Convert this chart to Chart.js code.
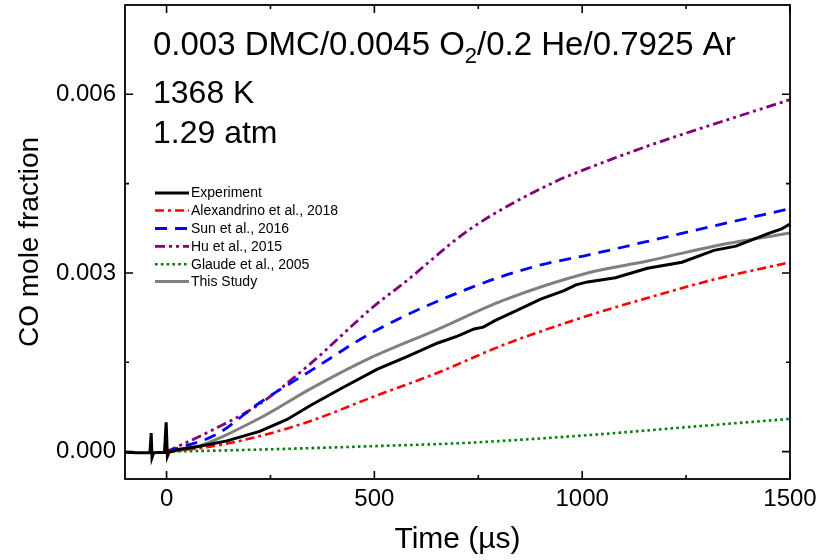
<!DOCTYPE html>
<html>
<head>
<meta charset="utf-8">
<script src="https://cdn.jsdelivr.net/npm/chart.js@4"></script>
<style>
  body { margin: 0; background: #fff; }
  canvas { display: block; }
</style>
</head>
<body>
<canvas id="chart" width="818" height="560"></canvas>
<script>
// valeurs (temps en µs, fraction molaire de CO)
const expTime = [-100, -70, -40, -37, -35, -31, -5, -1, 2, 6, 31, 80, 145, 224, 290, 345, 420, 506, 580, 651, 700, 740, 762, 790, 852, 900, 955, 985, 1013, 1080, 1157, 1240, 1317, 1370, 1413, 1447, 1480, 1500];
const expCO = [-0.00001, -0.00002, -0.00002, 0.00031, -0.00010, -0.00002, -0.00001, 0.00049, -0.00008, -0.00001, 0.00004, 0.00009, 0.00018, 0.00034, 0.00054, 0.00077, 0.00106, 0.00138, 0.00160, 0.00182, 0.00194, 0.00206, 0.00209, 0.00220, 0.00240, 0.00256, 0.00270, 0.00280, 0.00285, 0.00292, 0.00308, 0.00318, 0.00338, 0.00345, 0.00357, 0.00366, 0.00374, 0.00382];

const alexTime = [0, 111, 224, 345, 497, 651, 810, 1013, 1157, 1317, 1500];
const alexCO = [0, 0.00009, 0.00026, 0.00051, 0.00092, 0.00132, 0.00179, 0.00228, 0.00258, 0.00289, 0.00318];

const sunTime = [0, 120, 224, 345, 500, 731, 892, 1013, 1157, 1317, 1500];
const sunCO = [0, 0.00029, 0.00082, 0.00135, 0.00202, 0.00275, 0.00312, 0.00330, 0.00353, 0.00379, 0.00408];

const huTime = [0, 104, 224, 345, 497, 569, 731, 940, 996, 1157, 1317, 1500];
const huCO = [0, 0.00034, 0.00080, 0.00147, 0.00243, 0.00282, 0.00374, 0.00455, 0.00471, 0.00513, 0.00550, 0.00591];

const glaudeTime = [0, 200, 490, 731, 1020, 1285, 1500];
const glaudeCO = [0, 0.00003, 0.00009, 0.00015, 0.00028, 0.00043, 0.00055];

const studyTime = [0, 63, 224, 345, 489, 651, 810, 1013, 1157, 1317, 1500];
const studyCO = [0, 0.00006, 0.00056, 0.00105, 0.00157, 0.00205, 0.00254, 0.00300, 0.00320, 0.00345, 0.00367];

const xTickValues = [0, 500, 1000, 1500];
const xMinorTicks = [250, 750, 1250];
const yTickValues = [0, 0.003, 0.006];
const yMinorTicks = [0.0015, 0.0045];

const FONT = '"Liberation Sans", Arial, sans-serif';
Chart.defaults.font.family = FONT;
Chart.defaults.color = '#000';

function toPoints(xs, ys) {
  return xs.map((x, i) => ({ x: x, y: ys[i] }));
}

const series = [
  { label: 'Experiment', t: expTime, v: expCO, color: '#000000', width: 3, dash: [], smooth: false },
  { label: 'Alexandrino et al., 2018', t: alexTime, v: alexCO, color: '#ff0000', width: 2.6, dash: [9, 4, 3, 4], smooth: true },
  { label: 'Sun et al., 2016', t: sunTime, v: sunCO, color: '#0000ff', width: 2.8, dash: [12, 8], smooth: true },
  { label: 'Hu et al., 2015', t: huTime, v: huCO, color: '#800080', width: 2.8, dash: [10, 4, 3, 4, 3, 4], smooth: true },
  { label: 'Glaude et al., 2005', t: glaudeTime, v: glaudeCO, color: '#008000', width: 2.6, dash: [2.6, 3.2], smooth: true },
  { label: 'This Study', t: studyTime, v: studyCO, color: '#808080', width: 3, dash: [], smooth: true }
];

const datasets = series.map(s => ({
  label: s.label,
  data: toPoints(s.t, s.v),
  borderColor: s.color,
  borderWidth: s.width,
  borderDash: s.dash,
  pointRadius: 0,
  fill: false,
  tension: s.smooth ? 0.4 : 0,
  cubicInterpolationMode: s.smooth ? 'monotone' : 'default'
}));

// pas de marge automatique autour des axes
function noScalePadding(s) {
  s.paddingTop = 0;
  s.paddingBottom = 0;
  s.paddingLeft = 0;
  s.paddingRight = 0;
}

// cadre + graduations vers l'intérieur
const framePlugin = {
  id: 'frame',
  afterDatasetsDraw(chart) {
    const ctx = chart.ctx;
    const a = chart.chartArea;
    const xs = chart.scales.x, ys = chart.scales.y;
    ctx.save();
    ctx.strokeStyle = '#000';
    ctx.lineWidth = 1.6;
    ctx.setLineDash([]);
    ctx.beginPath();
    const tickX = (v, len) => {
      const p = xs.getPixelForValue(v);
      ctx.moveTo(p, a.bottom); ctx.lineTo(p, a.bottom - len);
      ctx.moveTo(p, a.top); ctx.lineTo(p, a.top + len);
    };
    const tickY = (v, len) => {
      const p = ys.getPixelForValue(v);
      ctx.moveTo(a.left, p); ctx.lineTo(a.left + len, p);
      ctx.moveTo(a.right, p); ctx.lineTo(a.right - len, p);
    };
    xTickValues.forEach(v => tickX(v, 8));
    xMinorTicks.forEach(v => tickX(v, 4));
    yTickValues.forEach(v => tickY(v, 8));
    yMinorTicks.forEach(v => tickY(v, 4));
    ctx.stroke();
    ctx.lineWidth = 1.8;
    ctx.strokeRect(a.left, a.top, a.right - a.left, a.bottom - a.top);
    ctx.restore();
  }
};

// texte des conditions + légende
const textPlugin = {
  id: 'texts',
  afterDraw(chart) {
    const ctx = chart.ctx;
    ctx.save();
    ctx.fillStyle = '#000';
    ctx.textBaseline = 'alphabetic';
    ctx.textAlign = 'left';

    let x = 153;
    ctx.font = '33px ' + FONT;
    const part1 = '0.003 DMC/0.0045 O';
    ctx.fillText(part1, x, 55);
    x += ctx.measureText(part1).width;
    ctx.font = '22px ' + FONT;
    ctx.fillText('2', x, 63);
    x += ctx.measureText('2').width;
    ctx.font = '33px ' + FONT;
    ctx.fillText('/0.2 He/0.7925 Ar', x, 55);

    ctx.font = '32px ' + FONT;
    ctx.fillText('1368 K', 153, 103);
    ctx.fillText('1.29 atm', 153, 143);

    // légende
    const rowY = [193, 210.5, 228.5, 246.3, 264.3, 281.5];
    ctx.font = '14px ' + FONT;
    ctx.textBaseline = 'middle';
    series.forEach((s, i) => {
      const y = rowY[i];
      ctx.beginPath();
      ctx.strokeStyle = s.color;
      ctx.lineWidth = s.width;
      ctx.setLineDash(s.dash);
      ctx.moveTo(155, y);
      ctx.lineTo(189, y);
      ctx.stroke();
      ctx.setLineDash([]);
      ctx.fillText(s.label, 191, y + 0.5);
    });
    ctx.restore();
  }
};

new Chart(document.getElementById('chart'), {
  type: 'line',
  data: { datasets: datasets },
  options: {
    responsive: false,
    animation: false,
    layout: { padding: { left: 0, right: 28, top: 5, bottom: 0 } },
    plugins: { legend: { display: false }, tooltip: { enabled: false } },
    scales: {
      x: {
        type: 'linear',
        min: -100,
        max: 1500,
        grid: { display: false, drawTicks: false },
        border: { display: false },
        afterBuildTicks: s => { s.ticks = xTickValues.map(v => ({ value: v })); },
        afterFit: s => { s.height = 81; noScalePadding(s); },
        ticks: { font: { size: 24 }, color: '#000', padding: 6, maxRotation: 0, callback: v => String(v) },
        title: { display: true, text: 'Time (µs)', font: { size: 30 }, color: '#000', padding: { top: 0, bottom: 2 } }
      },
      y: {
        type: 'linear',
        min: -0.00046,
        max: 0.0075,
        grid: { display: false, drawTicks: false },
        border: { display: false },
        afterBuildTicks: s => { s.ticks = yTickValues.map(v => ({ value: v })); },
        afterFit: s => { s.width = 125; noScalePadding(s); },
        ticks: { font: { size: 24 }, color: '#000', padding: 9, callback: v => Number(v).toFixed(3) },
        title: { display: true, text: 'CO mole fraction', font: { size: 28 }, color: '#000', padding: { top: 13, bottom: 0 } }
      }
    }
  },
  plugins: [framePlugin, textPlugin]
});
</script>
</body>
</html>
